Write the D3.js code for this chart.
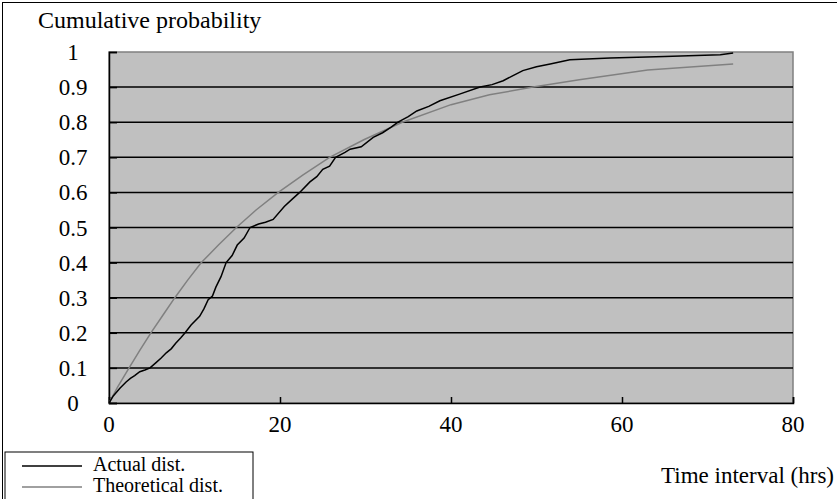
<!DOCTYPE html>
<html>
<head>
<meta charset="utf-8">
<script src="https://cdn.jsdelivr.net/npm/d3@7"></script>
<style>
  body { margin: 0; background: #fff; }
</style>
</head>
<body>
<div class="chart"></div>
<script>
/// Data
var actualX = [0, 0.5, 1.3, 2, 2.5, 3, 3.6, 4.2, 4.8, 5.5, 6.1, 6.7, 7.3, 7.8, 8.4, 8.9, 9.6, 10.6, 11.1, 11.6, 12.1, 12.5, 13.1, 13.7, 14.4, 15, 15.8, 16.5, 17.5, 18.3, 19.2, 20.5, 21.4, 22.3, 23.5, 24.3, 25, 25.8, 26.5, 27.6, 28.2, 29.5, 30.9, 32, 33, 33.8, 35, 36, 37.4, 38.7, 41, 43.4, 44.8, 46.1, 47.2, 48.4, 50, 51.6, 53.9, 58.6, 65, 71.5, 73];
var actualP = [0, 0.02, 0.043, 0.06, 0.07, 0.078, 0.089, 0.094, 0.1, 0.115, 0.128, 0.143, 0.155, 0.17, 0.186, 0.2, 0.222, 0.247, 0.268, 0.294, 0.305, 0.33, 0.36, 0.4, 0.42, 0.45, 0.47, 0.5, 0.51, 0.515, 0.523, 0.56, 0.58, 0.6, 0.63, 0.645, 0.666, 0.675, 0.7, 0.714, 0.723, 0.73, 0.757, 0.77, 0.786, 0.8, 0.816, 0.832, 0.845, 0.861, 0.88, 0.9, 0.907, 0.918, 0.932, 0.947, 0.958, 0.966, 0.978, 0.983, 0.987, 0.992, 0.997];

var theoX = [0, 1, 2.35, 3.6, 4.9, 6.3, 7.7, 9.2, 10.8, 12.8, 14.9, 17.2, 19.8, 22.7, 25.8, 29.8, 34.3, 40, 44.5, 49.6, 55, 63, 73];
var theoP = [0, 0.045, 0.1, 0.15, 0.2, 0.25, 0.3, 0.35, 0.4, 0.45, 0.5, 0.55, 0.6, 0.65, 0.7, 0.75, 0.8, 0.85, 0.878, 0.9, 0.921, 0.949, 0.966];

var xTicks = [0, 20, 40, 60, 80];
var yTicks = [0, 0.1, 0.2, 0.3, 0.4, 0.5, 0.6, 0.7, 0.8, 0.9, 1];

var seriesNames = ["Actual dist.", "Theoretical dist."];
var seriesColors = ["#000000", "#808080"];

/// SVG Wrapper Dimensions
var svgWidth = 837;
var svgHeight = 499;

var plot = { left: 109, top: 52, right: 793, bottom: 403 };

var svg = d3.select(".chart")
    .append("svg")
    .attr("width", svgWidth)
    .attr("height", svgHeight)
    .style("font-family", "\"Liberation Serif\"");

/// outer frame (runs off the right and bottom edges)
svg.append("rect")
    .attr("x", 2.5).attr("y", 2.5)
    .attr("width", svgWidth + 10).attr("height", svgHeight + 10)
    .attr("fill", "none").attr("stroke", "#000").attr("stroke-width", 1);

var xScale = d3.scaleLinear().domain([0, 80]).range([plot.left, plot.right]);
var yScale = d3.scaleLinear().domain([0, 1]).range([plot.bottom, plot.top]);

/// plot background
svg.append("rect")
    .attr("x", plot.left).attr("y", plot.top)
    .attr("width", plot.right - plot.left).attr("height", plot.bottom - plot.top)
    .attr("fill", "#c0c0c0")
    .attr("stroke", "#808080").attr("stroke-width", 1.5);

/// gridlines
svg.append("g")
    .selectAll("line")
    .data(yTicks.filter(d => d > 0 && d < 1))
    .enter()
    .append("line")
    .attr("x1", plot.left).attr("x2", plot.right)
    .attr("y1", d => yScale(d)).attr("y2", d => yScale(d))
    .attr("stroke", "#000").attr("stroke-width", 1.5);

/// Y axis, ticks inside
var yAxis = svg.append("g")
    .attr("transform", `translate(${plot.left}, 0)`)
    .call(d3.axisRight(yScale).tickValues(yTicks).tickSize(8).tickFormat(""));
yAxis.select(".domain").attr("stroke", "#000").attr("stroke-width", 1.5);
yAxis.selectAll(".tick line").attr("stroke", "#000").attr("stroke-width", 1.5);

/// X axis, ticks pointing up
var xAxis = svg.append("g")
    .attr("transform", `translate(0, ${plot.bottom})`)
    .call(d3.axisTop(xScale).tickValues(xTicks).tickSize(6).tickFormat(""));
xAxis.select(".domain").attr("stroke", "#000").attr("stroke-width", 1.5);
xAxis.selectAll(".tick line").attr("stroke", "#000").attr("stroke-width", 1.5);

/// tick labels
svg.append("g")
    .selectAll("text")
    .data(yTicks)
    .enter()
    .append("text")
    .attr("x", 73)
    .attr("y", d => yScale(d) + 8)
    .attr("text-anchor", "middle")
    .style("font-size", "23px")
    .text(d => d3.format("~g")(d));

svg.append("g")
    .selectAll("text")
    .data(xTicks)
    .enter()
    .append("text")
    .attr("x", d => xScale(d))
    .attr("y", 432)
    .attr("text-anchor", "middle")
    .style("font-size", "23px")
    .text(d => d);

/// axis titles
svg.append("text")
    .attr("x", 38).attr("y", 28)
    .style("font-size", "24px")
    .text("Cumulative probability");

svg.append("text")
    .attr("x", 834).attr("y", 483)
    .attr("text-anchor", "end")
    .style("font-size", "23px")
    .text("Time interval (hrs)");

/// lines
var line = d3.line()
    .x(d => xScale(d[0]))
    .y(d => yScale(d[1]));

var theoData = theoX.map((x, i) => [x, theoP[i]]);
var actualData = actualX.map((x, i) => [x, actualP[i]]);

svg.append("path")
    .datum(theoData)
    .attr("d", line)
    .attr("fill", "none")
    .attr("stroke", seriesColors[1])
    .attr("stroke-width", 1.5);

svg.append("path")
    .datum(actualData)
    .attr("d", line)
    .attr("fill", "none")
    .attr("stroke", seriesColors[0])
    .attr("stroke-width", 1.5);

/// legend
var legend = svg.append("g");
legend.append("rect")
    .attr("x", 5).attr("y", 452)
    .attr("width", 248).attr("height", 60)
    .attr("fill", "#fff").attr("stroke", "#000").attr("stroke-width", 1);

var legendItems = legend.selectAll(".item")
    .data(seriesNames)
    .enter()
    .append("g")
    .attr("class", "item")
    .attr("transform", (d, i) => `translate(0, ${466 + i * 21})`);

legendItems.append("line")
    .attr("x1", 22).attr("x2", 82)
    .attr("y1", 0).attr("y2", 0)
    .attr("stroke", (d, i) => seriesColors[i])
    .attr("stroke-width", 1.5);

legendItems.append("text")
    .attr("x", 93).attr("y", 5)
    .style("font-size", "20px")
    .text(d => d);
</script>
</body>
</html>
